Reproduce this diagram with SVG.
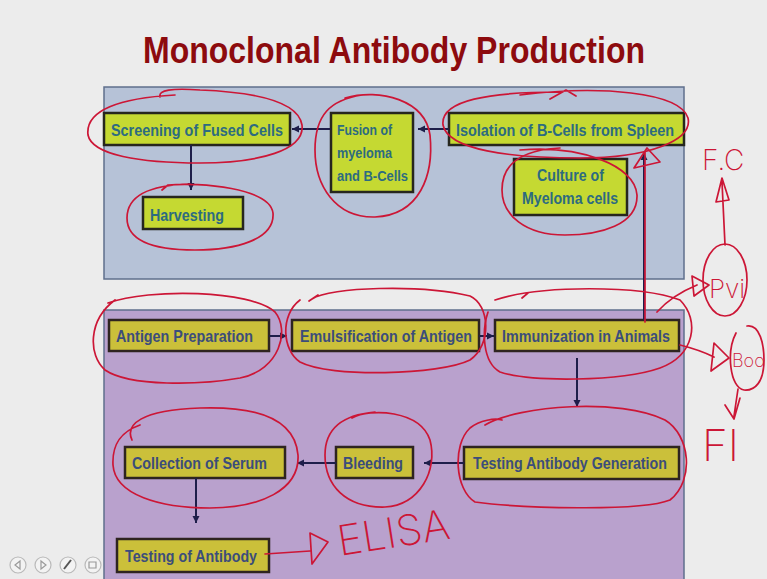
<svg xmlns="http://www.w3.org/2000/svg" width="767" height="579" viewBox="0 0 767 579">
  <defs>
    <marker id="arrow" markerUnits="userSpaceOnUse" markerWidth="8" markerHeight="8" refX="7" refY="4" orient="auto">
      <path d="M0,0.5 L7,4 L0,7.5 z" fill="#1e1e4a"/>
    </marker>
    <style>
      .title { font-family: "Liberation Sans", Arial, sans-serif; font-weight: bold; font-size: 36px; fill: #8d0b0e; }
      .panel-top { fill: #b6c2d7; stroke: #5f6f8c; stroke-width: 1.5; }
      .panel-bot { fill: #b9a1cd; stroke: #5f6f8c; stroke-width: 1.5; }
      .box-top { fill: #c5d932; stroke: #26261e; stroke-width: 2.5; }
      .box-bot { fill: #cbc03a; stroke: #2e2420; stroke-width: 2.5; }
      .lbl { font-family: "Liberation Sans", Arial, sans-serif; font-weight: bold; font-size: 17px; }
      .lbl-top { fill: #2d6b80; }
      .lbl-bot { fill: #3b4d7b; }
      .small { font-size: 14px; }
      .conn { fill: none; stroke: #1e1e4a; stroke-width: 2; }
      .ink { fill: none; stroke: #cc1636; stroke-width: 1.7; stroke-linecap: round; stroke-linejoin: round; }
      .hand { font-family: Inter, Roboto, Lato, "DejaVu Sans", sans-serif; font-weight: 200; fill: #cc1636; }
      .ui { fill: #f3f3f3; stroke: #b9b9b9; stroke-width: 1.2; }
      .ui-g { fill: none; stroke: #9a9a9a; stroke-width: 1.2; }
    </style>
  </defs>

  <!-- slide background -->
  <rect x="0" y="0" width="767" height="579" fill="#ececec"/>

  <text class="title" x="143" y="63" textLength="502" lengthAdjust="spacingAndGlyphs">Monoclonal Antibody Production</text>

  <!-- stage panels -->
  <rect class="panel-top" x="104" y="87" width="580" height="192"/>
  <rect class="panel-bot" x="104" y="310" width="580" height="275"/>

  <!-- upper stage: hybridoma -->
  <g id="screening">
    <rect class="box-top" x="104" y="113" width="186" height="32"/>
    <text class="lbl lbl-top" x="111" y="136" textLength="172" lengthAdjust="spacingAndGlyphs">Screening of Fused Cells</text>
  </g>
  <g id="harvesting">
    <rect class="box-top" x="143" y="197" width="100" height="32"/>
    <text class="lbl lbl-top" x="150" y="221" textLength="74" lengthAdjust="spacingAndGlyphs">Harvesting</text>
  </g>
  <g id="fusion">
    <rect class="box-top" x="331" y="113" width="82" height="79"/>
    <text class="lbl lbl-top small" x="337" y="135" textLength="55" lengthAdjust="spacingAndGlyphs">Fusion of</text>
    <text class="lbl lbl-top small" x="337" y="158" textLength="55" lengthAdjust="spacingAndGlyphs">myeloma</text>
    <text class="lbl lbl-top small" x="337" y="181" textLength="71" lengthAdjust="spacingAndGlyphs">and B-Cells</text>
  </g>
  <g id="isolation">
    <rect class="box-top" x="449" y="113" width="235" height="32"/>
    <text class="lbl lbl-top" x="456" y="136" textLength="218" lengthAdjust="spacingAndGlyphs">Isolation of B-Cells from Spleen</text>
  </g>
  <g id="culture">
    <rect class="box-top" x="514" y="159" width="113" height="56"/>
    <text class="lbl lbl-top" x="537" y="181" textLength="67" lengthAdjust="spacingAndGlyphs">Culture of</text>
    <text class="lbl lbl-top" x="522" y="204" textLength="96" lengthAdjust="spacingAndGlyphs">Myeloma cells</text>
  </g>

  <!-- lower stage: immunization -->
  <g id="antigen-prep">
    <rect class="box-bot" x="109" y="320" width="160" height="31"/>
    <text class="lbl lbl-bot" x="116" y="342" textLength="137" lengthAdjust="spacingAndGlyphs">Antigen Preparation</text>
  </g>
  <g id="emulsification">
    <rect class="box-bot" x="292" y="320" width="187" height="31"/>
    <text class="lbl lbl-bot" x="300" y="342" textLength="172" lengthAdjust="spacingAndGlyphs">Emulsification of Antigen</text>
  </g>
  <g id="immunization">
    <rect class="box-bot" x="495" y="320" width="184" height="31"/>
    <text class="lbl lbl-bot" x="502" y="342" textLength="168" lengthAdjust="spacingAndGlyphs">Immunization in Animals</text>
  </g>
  <g id="testing-generation">
    <rect class="box-bot" x="464" y="447" width="215" height="32"/>
    <text class="lbl lbl-bot" x="473" y="469" textLength="194" lengthAdjust="spacingAndGlyphs">Testing Antibody Generation</text>
  </g>
  <g id="bleeding">
    <rect class="box-bot" x="336" y="447" width="77" height="31"/>
    <text class="lbl lbl-bot" x="343" y="469" textLength="60" lengthAdjust="spacingAndGlyphs">Bleeding</text>
  </g>
  <g id="collection">
    <rect class="box-bot" x="125" y="447" width="160" height="31"/>
    <text class="lbl lbl-bot" x="132" y="469" textLength="135" lengthAdjust="spacingAndGlyphs">Collection of Serum</text>
  </g>
  <g id="testing-antibody">
    <rect class="box-bot" x="117" y="539" width="152" height="33"/>
    <text class="lbl lbl-bot" x="125" y="562" textLength="132" lengthAdjust="spacingAndGlyphs">Testing of Antibody</text>
  </g>

  <!-- process flow -->
  <g id="connectors">
    <path class="conn" d="M331,129 L292,129" marker-end="url(#arrow)"/>
    <path class="conn" d="M449,129 L418,129" marker-end="url(#arrow)"/>
    <path class="conn" d="M191,145 L191,190" marker-end="url(#arrow)"/>
    <path class="conn" d="M644,320 L644,153" marker-end="url(#arrow)"/>
    <path class="conn" d="M269,336 L287,336" marker-end="url(#arrow)"/>
    <path class="conn" d="M479,336 L494,336" marker-end="url(#arrow)"/>
    <path class="conn" d="M577,358 L577,407" marker-end="url(#arrow)"/>
    <path class="conn" d="M464,463 L424,463" marker-end="url(#arrow)"/>
    <path class="conn" d="M336,463 L297,463" marker-end="url(#arrow)"/>
    <path class="conn" d="M196,478 L196,523" marker-end="url(#arrow)"/>
  </g>

  <!-- pen annotations -->
  <g id="annotations">
    <path class="ink" d="M160,97 C158,90 172,88 200,90 C250,92 298,100 302,125 C305,150 260,163 200,163 C140,163 92,155 88,135 C85,110 120,98 175,95"/>
    <path class="ink" d="M162,190 L168,185 C200,182 270,188 273,213 C275,240 235,250 195,250 C150,250 127,240 127,218 C127,195 150,185 190,184"/>
    <path class="ink" d="M345,98 C380,88 425,100 430,135 C434,175 420,215 375,217 C335,218 315,185 315,150 C315,115 330,100 362,95"/>
    <path class="ink" d="M520,95 C600,85 680,92 688,118 C693,140 650,158 580,158 C510,158 448,150 443,125 C440,100 490,92 560,92 M550,99 L566,90 L576,96"/>
    <path class="ink" d="M520,150 C580,145 635,165 637,195 C638,225 600,235 565,235 C525,235 502,215 502,190 C502,165 520,150 560,148"/>
    <path class="ink" d="M634,168 L647,148 L660,162 Z M645,152 L645,322"/>

    <path class="ink" d="M108,303 C150,288 250,290 275,312 C290,330 280,370 240,378 C200,385 130,387 105,370 C88,355 88,320 115,300"/>
    <path class="ink" d="M312,299 C330,287 420,284 470,296 C490,305 492,345 470,360 C440,375 330,378 300,362 C282,350 280,315 300,300 M309,301 L318,295"/>
    <path class="ink" d="M495,300 C540,285 640,285 680,300 C700,320 695,355 660,368 C620,382 530,382 500,372 C482,362 482,330 488,312 M522,298 L528,293"/>
    <path class="ink" d="M485,425 C520,405 620,398 665,420 C690,435 695,480 670,500 C640,512 520,508 475,502 C455,490 452,445 470,428 C480,420 495,418 502,420"/>
    <path class="ink" d="M352,418 C370,408 420,410 430,440 C438,470 420,505 385,507 C345,508 325,485 325,455 C325,430 340,415 375,412"/>
    <path class="ink" d="M132,440 C125,425 140,410 200,408 C260,406 295,420 298,455 C300,490 260,508 210,508 C160,508 115,495 113,465 C112,445 120,432 140,425"/>

    <!-- side notes -->
    <path class="ink" d="M657,312 C665,303 680,292 697,285 M692,276 L709,285 L694,296 Z"/>
    <ellipse class="ink" cx="725" cy="280" rx="22" ry="36"/>
    <text class="hand" x="709" y="298" font-size="26">Pvi</text>
    <path class="ink" d="M725,245 L722,182 M722,178 L716,202 L729,200 Z"/>
    <text class="hand" x="702" y="170" font-size="28">F.C</text>
    <path class="ink" d="M680,345 C692,348 704,352 714,357 M714,343 L729,358 L711,371 Z"/>
    <path class="ink" d="M747,326 C760,324 764,345 764,360 C764,382 755,391 744,390 C730,388 726,352 736,333"/>
    <text class="hand" x="732" y="367" font-size="18">Boo</text>
    <path class="ink" d="M738,389 L734,416 M725,405 L734,419 L740,398"/>
    <text class="hand" x="702" y="461" font-size="44">FI</text>

    <path class="ink" d="M265,554 C280,553 295,552 310,551 M310,533 L328,542 L312,564 Z"/>
    <text class="hand" x="340" y="556" font-size="42" transform="rotate(-9 340 556)">ELISA</text>
  </g>

  <!-- viewer controls -->
  <g id="controls">
    <circle class="ui" cx="18" cy="565" r="8"/>
    <path class="ui-g" d="M20,561 L15,565 L20,569 Z"/>
    <circle class="ui" cx="43" cy="565" r="8"/>
    <path class="ui-g" d="M41,561 L46,565 L41,569 Z"/>
    <circle class="ui" cx="68" cy="565" r="8"/>
    <path d="M64,569 L71,560" stroke="#555" stroke-width="2"/>
    <circle class="ui" cx="93" cy="565" r="8"/>
    <path class="ui-g" d="M89,562 L96,562 L96,568 L89,568 Z"/>
  </g>
</svg>
